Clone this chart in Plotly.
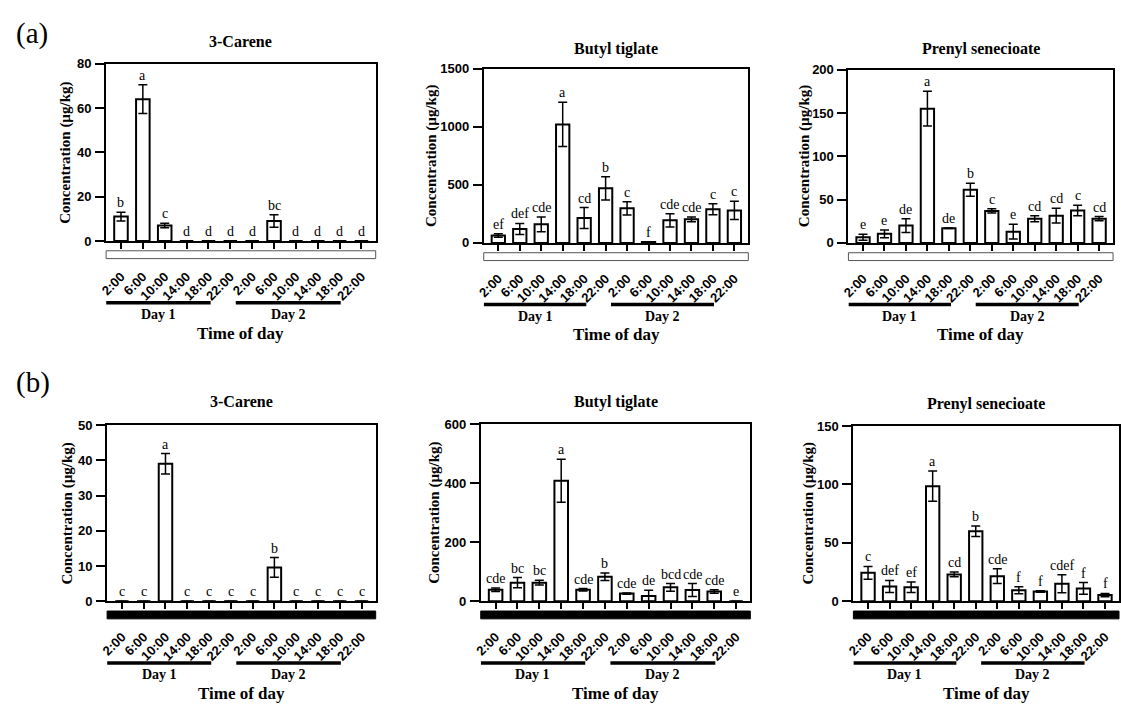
import plotly.graph_objects as go

W, H = 1121, 714

# ---------------- data ----------------
time_labels = ["2:00", "6:00", "10:00", "14:00", "18:00", "22:00",
               "2:00", "6:00", "10:00", "14:00", "18:00", "22:00"]
slots = list(range(12))

a_carene = [11, 64, 7, 0, 0, 0, 0, 9, 0, 0, 0, 0]
a_carene_err = [2, 6.5, 1, 0, 0, 0, 0, 2.8, 0, 0, 0, 0]
a_carene_sig = ["b", "a", "c", "d", "d", "d", "d", "bc", "d", "d", "d", "d"]

a_butyl = [65, 120, 160, 1020, 215, 470, 298, 8, 195, 203, 290, 280]
a_butyl_err = [15, 48, 63, 190, 90, 100, 57, 3, 57, 20, 47, 78]
a_butyl_sig = ["ef", "def", "cde", "a", "cd", "b", "c", "f", "cde", "cde", "c", "c"]

a_prenyl = [6.5, 10.5, 20, 155, 17, 61.5, 37, 13, 28, 31.5, 37.5, 28]
a_prenyl_err = [3.5, 4.5, 8, 20, 0.3, 7.5, 2.5, 8.5, 3.5, 8.5, 6, 2.5]
a_prenyl_sig = ["e", "e", "de", "a", "de", "b", "c", "e", "cd", "cd", "c", "cd"]

b_carene = [0, 0, 39, 0, 0, 0, 0, 9.6, 0, 0, 0, 0]
b_carene_err = [0, 0, 2.9, 0, 0, 0, 0, 2.8, 0, 0, 0, 0]
b_carene_sig = ["c", "c", "a", "c", "c", "c", "c", "b", "c", "c", "c", "c"]

b_butyl = [39, 63, 63, 408, 39, 83, 26, 18, 47, 38, 33, 0]
b_butyl_err = [6, 17, 8, 73, 4, 13, 2, 19, 13, 22, 6, 0]
b_butyl_sig = ["cde", "bc", "bc", "a", "cde", "b", "cde", "de", "bcd", "cde", "cde", "e"]

b_prenyl = [24.3, 12.6, 12, 98.5, 23, 60, 21.5, 9.5, 8.4, 15, 11, 5.3]
b_prenyl_err = [5.5, 5.2, 4.5, 13, 2, 4.5, 6.4, 3, 0.6, 7.7, 5, 1.4]
b_prenyl_sig = ["c", "def", "ef", "a", "cd", "b", "cde", "f", "f", "cdef", "f", "f"]

titles = ["3-Carene", "Butyl tiglate", "Prenyl senecioate",
          "3-Carene", "Butyl tiglate", "Prenyl senecioate"]
y_max = [80, 1500, 200, 50, 600, 150]
y_ticks = [[0, 20, 40, 60, 80], [0, 500, 1000, 1500], [0, 50, 100, 150, 200],
           [0, 10, 20, 30, 40, 50], [0, 200, 400, 600], [0, 50, 100, 150]]
values = [a_carene, a_butyl, a_prenyl, b_carene, b_butyl, b_prenyl]
errors = [a_carene_err, a_butyl_err, a_prenyl_err, b_carene_err, b_butyl_err, b_prenyl_err]
letters = [a_carene_sig, a_butyl_sig, a_prenyl_sig, b_carene_sig, b_butyl_sig, b_prenyl_sig]
day_names = ["Day 1", "Day 2"]
day_spans = [(-0.68, 4.1), (5.25, 10.05)]

# ---------------- layout (pixels) ----------------
# left, right, top, bottom, title_y, ytitle_x
panels = [
    (99, 371, 58, 239, 35, 58),
    (480, 747, 63, 241, 43, 428),
    (848, 1115, 64, 241, 43, 803),
    (100, 371, 427, 607, 403, 60),
    (477, 749, 426, 607, 403, 430),
    (853, 1121, 428, 607, 406, 808),
]

SERIF = "Liberation Serif"
SANS = "Liberation Sans"


def px(v):
    return v / W


def py(v):
    return 1 - v / H


fig = go.Figure()
layout = {}
annotations = []
shapes = []

for i in range(6):
    n = i + 1
    xa = "x" if n == 1 else f"x{n}"
    ya = "y" if n == 1 else f"y{n}"
    l, r, t, b, ty, yx = panels[i]

    fig.add_trace(go.Bar(
        x=slots, y=values[i], width=0.62,
        marker=dict(color="white", line=dict(color="black", width=2)),
        error_y=dict(type="data", array=errors[i], color="black",
                     thickness=1.5, width=4.5),
        xaxis=xa, yaxis=ya, showlegend=False, hoverinfo="skip",
    ))

    layout["xaxis" if n == 1 else f"xaxis{n}"] = dict(
        domain=[px(l), min(px(r), 1.0)], range=[-0.68, 11.65],
        tickmode="array", tickvals=slots, ticktext=time_labels,
        tickangle=-45, ticks="outside", ticklen=6, tickwidth=2, tickcolor="black",
        showline=True, linewidth=2, linecolor="black", mirror=True,
        showgrid=False, zeroline=False, anchor=ya,
        tickfont=dict(family=SANS, size=13, color="black", weight="bold"),
        ticklabelstandoff=15, fixedrange=True,
    )
    layout["yaxis" if n == 1 else f"yaxis{n}"] = dict(
        domain=[py(b), py(t)], range=[0, y_max[i]],
        tickmode="array", tickvals=y_ticks[i],
        ticks="outside", ticklen=9, tickwidth=2, tickcolor="black",
        showline=True, linewidth=2, linecolor="black", mirror=True,
        showgrid=False, zeroline=False, anchor=xa,
        tickfont=dict(family=SANS, size=13, color="black", weight="bold"),
        ticklabelstandoff=1, fixedrange=True,
    )

    # title
    annotations.append(dict(
        x=px((l + min(r, W)) / 2), y=py(ty), xref="paper", yref="paper",
        text=f"<b>{titles[i]}</b>", showarrow=False, xanchor="center", yanchor="middle",
        font=dict(family=SERIF, size=16, color="black")))
    # y title
    annotations.append(dict(
        x=px(yx), y=py((t + b) / 2), xref="paper", yref="paper",
        text="<b>Concentration (µg/kg)</b>", textangle=-90, showarrow=False,
        xanchor="center", yanchor="middle",
        font=dict(family=SERIF, size=15, color="black")))
    # significance letters
    for k in slots:
        annotations.append(dict(
            x=k, y=values[i][k] + errors[i][k], xref=xa, yref=ya,
            text=letters[i][k], showarrow=False, xanchor="center", yanchor="bottom",
            yshift=0, font=dict(family=SERIF, size=14, color="#000000")))
    # band under axis (light / dark)
    dark = i >= 3
    shapes.append(dict(
        type="rect", xref=f"{xa} domain", yref="paper",
        x0=0, x1=1, y0=py(b + 18), y1=py(b + 10),
        fillcolor="black" if dark else "white",
        line=dict(color="black" if dark else "#555555", width=1)))
    # day lines and labels
    for (d0, d1), dname in zip(day_spans, day_names):
        shapes.append(dict(
            type="line", xref=xa, yref="paper", x0=d0, x1=d1,
            y0=py(b + 63), y1=py(b + 63), line=dict(color="black", width=3.5)))
        annotations.append(dict(
            x=(d0 + d1) / 2, y=py(b + 75), xref=xa, yref="paper",
            text=f"<b>{dname}</b>", showarrow=False, xanchor="center", yanchor="middle",
            font=dict(family=SERIF, size=14, color="black")))
    annotations.append(dict(
        x=px((l + min(r, W)) / 2), y=py(b + 94), xref="paper", yref="paper",
        text="<b>Time of day</b>", showarrow=False, xanchor="center", yanchor="middle",
        font=dict(family=SERIF, size=17, color="black")))

annotations.append(dict(x=px(6), y=py(27), xref="paper", yref="paper", text="(a)",
                        showarrow=False, xanchor="left", yanchor="middle",
                        font=dict(family=SERIF, size=29, color="black")))
annotations.append(dict(x=px(6), y=py(384), xref="paper", yref="paper", text="(b)",
                        showarrow=False, xanchor="left", yanchor="middle",
                        font=dict(family=SERIF, size=29, color="black")))

fig.update_layout(
    width=W, height=H, margin=dict(l=0, r=0, t=0, b=0),
    paper_bgcolor="white", plot_bgcolor="white",
    annotations=annotations, shapes=shapes, bargap=0.38,
    **layout,
)

fig.write_html("out.html", config={"displayModeBar": False},
               post_script="document.documentElement.style.margin='0';"
                           "document.body.style.margin='0';"
                           "document.body.style.overflow='hidden';")
